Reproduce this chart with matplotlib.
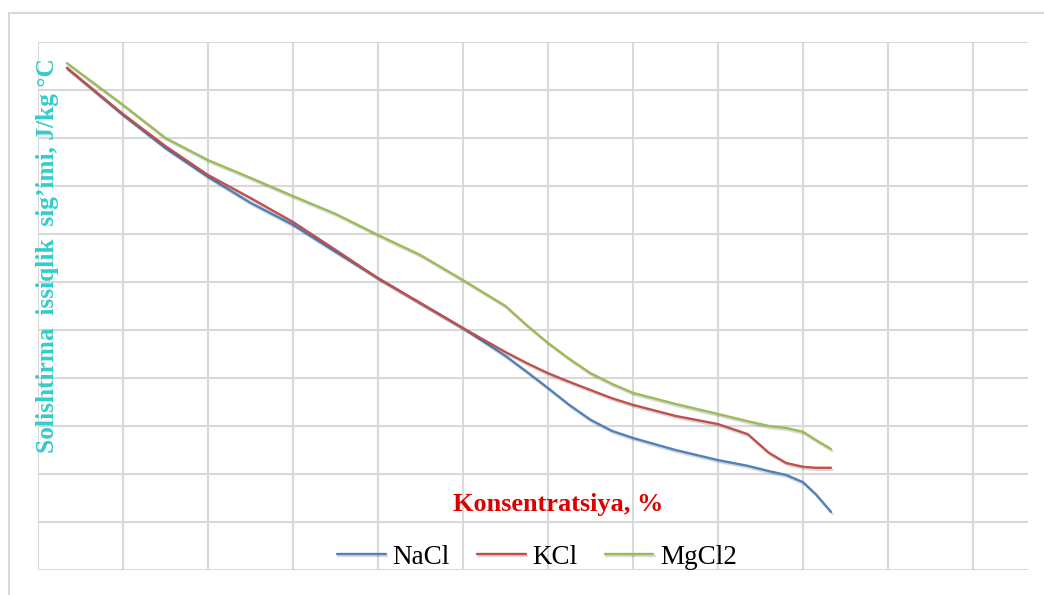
import numpy as np
import matplotlib.pyplot as plt
import matplotlib.patheffects as pe
from matplotlib.lines import Line2D

# Concentration (grid units, no tick labels on the original chart)
konsentratsiya = [0.34, 1.0, 1.5, 2.0, 2.5, 3.0, 3.5, 4.0, 4.5, 5.0, 5.5, 5.75,
                  6.0, 6.25, 6.5, 6.75, 7.0, 7.5, 8.0, 8.35, 8.6, 8.8, 9.0, 9.15, 9.33]

# Specific heat capacity (grid units)
nacl = [10.46, 9.48, 8.79, 8.19, 7.65, 7.19, 6.63, 6.08, 5.56, 5.04, 4.46, 4.13,
        3.79, 3.44, 3.13, 2.90, 2.75, 2.50, 2.29, 2.17, 2.06, 1.98, 1.83, 1.58, 1.21]
kcl = [10.46, 9.50, 8.83, 8.23, 7.75, 7.25, 6.67, 6.08, 5.56, 5.04, 4.54, 4.31,
       4.10, 3.92, 3.75, 3.58, 3.44, 3.21, 3.04, 2.83, 2.44, 2.23, 2.15, 2.13, 2.13]
mgcl2 = [10.56, 9.69, 9.00, 8.54, 8.17, 7.79, 7.42, 6.98, 6.56, 6.04, 5.50, 5.10,
         4.73, 4.40, 4.10, 3.88, 3.69, 3.46, 3.25, 3.10, 3.00, 2.96, 2.88, 2.71, 2.52]

series = [("NaCl", nacl, "#4F81BD"),
          ("KCl", kcl, "#C0504D"),
          ("MgCl2", mgcl2, "#9BBB59")]

plt.rcParams['font.family'] = ['Liberation Serif', 'DejaVu Serif']

W, H = 1044, 595
fig = plt.figure(figsize=(W / 100, H / 100), dpi=100)

# outer chart frame
fig.add_artist(Line2D([9 / W, 9 / W], [0, 1 - 13 / H], color="#d9d9d9", lw=1.5))
fig.add_artist(Line2D([9 / W, 1], [1 - 13 / H, 1 - 13 / H], color="#d9d9d9", lw=1.5))

ax = fig.add_axes([38 / W, 25 / H, 990 / W, 528 / H])
ax.set_xlim(0, 990 / 85)
ax.set_ylim(0, 11)
ax.set_xticks(np.arange(0, 12))
ax.set_yticks(np.arange(0, 12))
ax.grid(True, color="#d9d9d9", lw=1.5)
ax.tick_params(length=0, labelbottom=False, labelleft=False)
for s in ax.spines.values():
    s.set_visible(False)

shadow = [pe.SimpleLineShadow(offset=(1, -1.5), alpha=0.15), pe.Normal()]
for name, vals, col in series:
    ax.plot(konsentratsiya, vals, color=col, lw=1.7, label=name,
            path_effects=shadow, solid_capstyle="round", solid_joinstyle="round")

ax.text((558 - 38) / 85, (570 - 505) / 48, "Konsentratsiya, %",
        color="#DD0000", fontsize=18.9, fontweight="bold",
        ha="center", va="center")
ax.text((48 - 38) / 85, (570 - 256) / 48,
        "Solishtirma  issiqlik  sig\u2019imi, J/kg \u00b0C",
        color="#33CCCC", fontsize=18.3, fontweight="bold", rotation=90,
        ha="center", va="center")

leg = ax.legend(loc="center", bbox_to_anchor=((537 - 38) / 990, (570 - 557) / 528),
                ncol=3, frameon=False, fontsize=19.5, handlelength=1.8,
                handletextpad=0.25, columnspacing=1.0)

fig.savefig("out.png", dpi=100, facecolor="white")
